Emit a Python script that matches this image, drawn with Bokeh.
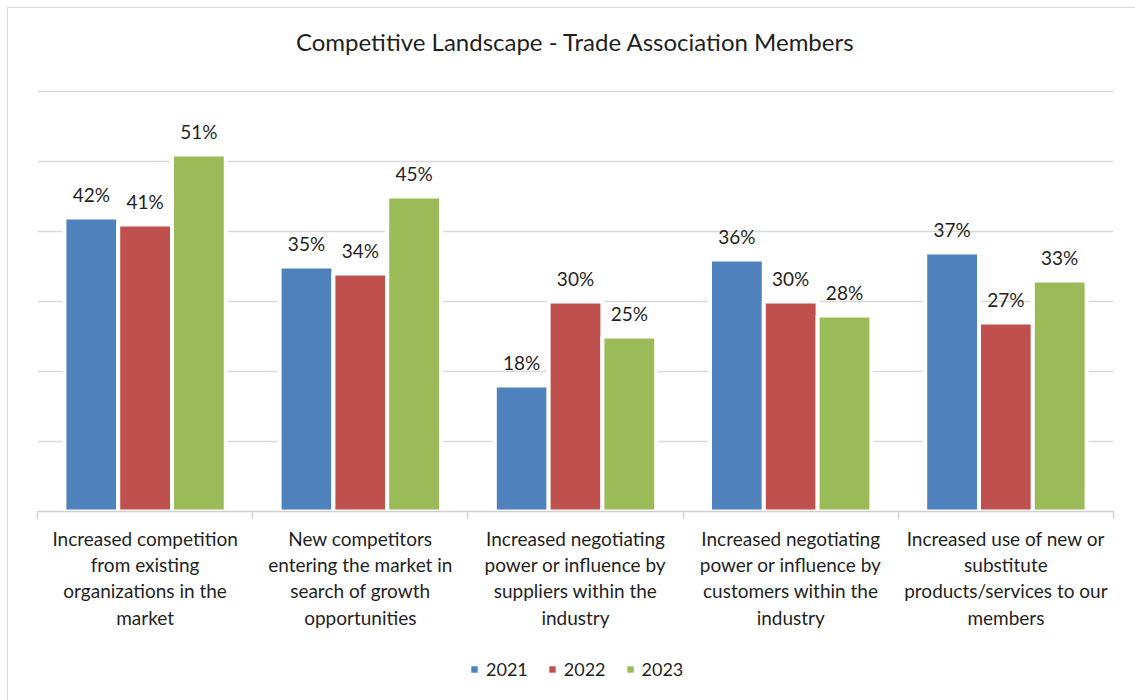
from bokeh.plotting import figure
from bokeh.layouts import column
from bokeh.models import FixedTicker, Legend, LegendItem, ColumnDataSource, Range1d
from bokeh.core.properties import value
from bokeh.embed import file_html
from bokeh.resources import INLINE

title_text = "Competitive Landscape - Trade Association Members"
categories = [
    "Increased competition\nfrom existing\norganizations in the\nmarket",
    "New competitors\nentering the market in\nsearch of growth\nopportunities",
    "Increased negotiating\npower or influence by\nsuppliers within the\nindustry",
    "Increased negotiating\npower or influence by\ncustomers within the\nindustry",
    "Increased use of new or\nsubstitute\nproducts/services to our\nmembers",
]
years = ["2021", "2022", "2023"]
v2021 = [42, 35, 18, 36, 37]
v2022 = [41, 34, 30, 30, 27]
v2023 = [51, 45, 25, 28, 33]
colors = ["#4F81BD", "#C0504D", "#9BBB59"]

FONT = "Lato"
TXT = "#1f1f1f"
W = 1127

# title strip
tp = figure(width=W, height=81, output_backend="svg", toolbar_location=None,
            x_range=Range1d(0, 1), y_range=Range1d(0, 1),
            x_axis_location=None, y_axis_location=None,
            min_border_left=29, min_border_right=22, min_border_top=0, min_border_bottom=0)
tp.title.visible = False
tp.outline_line_color = None
tp.xgrid.visible = False
tp.ygrid.visible = False
tp.text(x=[0.5], y=[0.595], text=[title_text], text_align="center", text_baseline="middle",
        text_font=value(FONT), text_font_size="24px", text_color=TXT)

# main chart
p = figure(width=W, height=559, output_backend="svg", toolbar_location=None,
           x_range=Range1d(0, 5), y_range=Range1d(0, 60.3),
           min_border_left=29, min_border_right=22, min_border_top=0, min_border_bottom=137)
p.title.visible = False
p.outline_line_color = None
p.background_fill_color = "white"
p.border_fill_color = "white"

xs = [i + 0.5 for i in range(len(categories))]
offsets = [-0.25, 0.0, 0.25]
series = [v2021, v2022, v2023]
for yr, vals, off, col in zip(years, series, offsets, colors):
    src = ColumnDataSource(dict(x=[x + off for x in xs], top=vals,
                                lab=[f"{v}%" for v in vals]))
    p.vbar(x="x", top="top", width=0.25, bottom=0, source=src,
           fill_color=col, line_color="white", line_width=4)
    p.text(x="x", y="top", text="lab", source=src, text_align="center",
           text_baseline="bottom", y_offset=-12, text_font=value(FONT),
           text_font_size="19px", text_color=TXT)

p.yaxis.visible = False
p.ygrid.ticker = FixedTicker(ticks=[10, 20, 30, 40, 50, 60])
p.ygrid.grid_line_color = "#d9d9d9"
p.ygrid.grid_line_width = 1.5
p.xgrid.visible = False

p.xaxis.ticker = FixedTicker(ticks=xs, minor_ticks=[0, 1, 2, 3, 4, 5])
p.xaxis.major_label_overrides = {x: c for x, c in zip(xs, categories)}
p.xaxis.major_tick_line_color = None
p.xaxis.minor_tick_line_color = "#d0d0d0"
p.xaxis.minor_tick_line_width = 1.5
p.xaxis.minor_tick_out = 7
p.xaxis.minor_tick_in = 0
p.xaxis.axis_line_color = "#d0d0d0"
p.xaxis.axis_line_width = 1.5
p.xaxis.major_label_text_font = FONT
p.xaxis.major_label_text_font_size = "19px"
p.xaxis.major_label_text_color = TXT
p.xaxis.major_label_text_line_height = 1.15
p.xaxis.major_label_standoff = 8

# legend strip
lg = figure(width=W, height=52, output_backend="svg", toolbar_location=None,
            x_range=Range1d(0, 1), y_range=Range1d(0, 1),
            x_axis_location=None, y_axis_location=None, min_border=0)
lg.title.visible = False
lg.outline_line_color = None
lg.xgrid.visible = False
lg.ygrid.visible = False
items = []
for yr, col in zip(years, colors):
    dummy = lg.quad(left=[-10], right=[-9], bottom=[-10], top=[-9],
                    fill_color=col, line_color=None)
    items.append(LegendItem(label=yr, renderers=[dummy]))
legend = Legend(items=items, orientation="horizontal", location=(433, 20),
                label_text_font=FONT, label_text_font_size="18px", label_text_color=TXT,
                glyph_width=8, glyph_height=8, label_standoff=8, spacing=20,
                border_line_color=None, background_fill_alpha=0, margin=0, padding=4)
lg.add_layout(legend)

layout = column(tp, p, lg, spacing=0)
layout.styles = {"border": "1px solid #d9d9d9", "margin-left": "7px", "margin-top": "7px"}

open("out.html", "w").write(file_html(layout, INLINE))
